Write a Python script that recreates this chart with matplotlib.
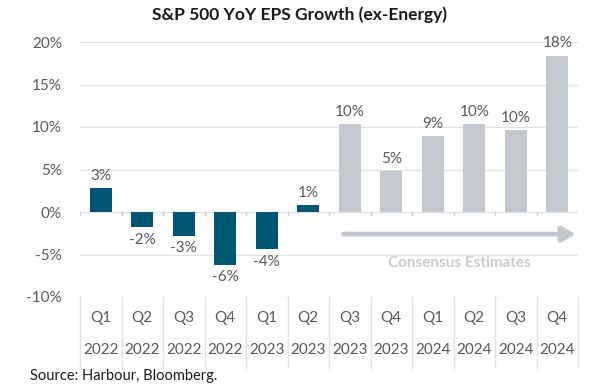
import matplotlib
matplotlib.use("Agg")
import matplotlib.pyplot as plt

quarters = ["Q1", "Q2", "Q3", "Q4", "Q1", "Q2", "Q3", "Q4", "Q1", "Q2", "Q3", "Q4"]
years = ["2022", "2022", "2022", "2022", "2023", "2023", "2023", "2023", "2024", "2024", "2024", "2024"]
values = [2.8, -1.8, -2.8, -6.2, -4.4, 0.8, 10.3, 4.8, 8.9, 10.3, 9.6, 18.4]
labels = ["3%", "-2%", "-3%", "-6%", "-4%", "1%", "10%", "5%", "9%", "10%", "10%", "18%"]
actual_count = 6
yticks = [-10, -5, 0, 5, 10, 15, 20]

plt.rcParams['font.family'] = ['Lato', 'DejaVu Sans']

W, H = 600, 385
fig = plt.figure(figsize=(6, 3.85), dpi=100)
L, R, T, B = 80, 578, 42, 297
ax = fig.add_axes([L / W, 1 - B / H, (R - L) / W, (B - T) / H])

dark = "#005673"
grey = "#C3C9CE"
txt = "#595959"
gridc = "#E3E3E3"

n = len(values)
x = list(range(n))
colors = [dark if i < actual_count else grey for i in range(n)]
ax.bar(x, values, width=0.52, color=colors, zorder=3)
ax.set_xlim(-0.5, n - 0.5)
ax.set_ylim(-10, 20)
ax.set_yticks(yticks)
ax.set_yticklabels([f"{v}%" for v in yticks], color=txt, fontsize=11)
ax.tick_params(axis='y', length=0, pad=13)
ax.set_xticks([])
for v in yticks:
    ax.axhline(v, color=gridc, lw=1, zorder=1)
for s in ax.spines.values():
    s.set_visible(False)

for i, (v, lab) in enumerate(zip(values, labels)):
    if v >= 0:
        ax.annotate(lab, (i, v), xytext=(0, 4), textcoords="offset points",
                    ha="center", va="bottom", color=txt, fontsize=11)
    else:
        ax.annotate(lab, (i, v), xytext=(0, -4), textcoords="offset points",
                    ha="center", va="top", color=txt, fontsize=11)

# tick marks on zero line at category boundaries
for i in range(n + 1):
    ax.plot([i - 0.5, i - 0.5], [-0.35, 0], color="#D0D0D0", lw=1, zorder=2)

# category table below axis
trans = ax.get_xaxis_transform()
bottom_y = -(368 - B) / (B - T)
for i in range(n + 1):
    ax.plot([i - 0.5, i - 0.5], [0, bottom_y], transform=trans, color=gridc, lw=1, clip_on=False)
q_y = -(318 - B) / (B - T)
y_y = -(350 - B) / (B - T)
for i in range(n):
    ax.text(i, q_y, quarters[i], transform=trans, ha="center", va="center", color=txt, fontsize=11)
    ax.text(i, y_y, years[i], transform=trans, ha="center", va="center", color=txt, fontsize=11)

# consensus arrow
ax.annotate("", xy=(11.45, -2.6), xytext=(5.85, -2.6), annotation_clip=False,
            arrowprops=dict(arrowstyle="-|>,head_length=0.8,head_width=0.45", color="#C3C9CE", lw=3.5,
                            shrinkA=0, shrinkB=0), zorder=4)
ax.text(8.65, -6.0, "Consensus Estimates", ha="center", va="center", color="#C8CDD1",
        fontsize=11, fontweight="bold")

fig.text(0.5, 1 - 15 / H, "S&P 500 YoY EPS Growth (ex-Energy)", ha="center", va="center",
         fontsize=12.5, fontweight="bold", color="#1a1a1a")
fig.text(30 / W, 1 - 376 / H, "Source: Harbour, Bloomberg.", ha="left", va="center",
         fontsize=10.5, color="#1a1a1a")

fig.savefig("out.png", dpi=100)
